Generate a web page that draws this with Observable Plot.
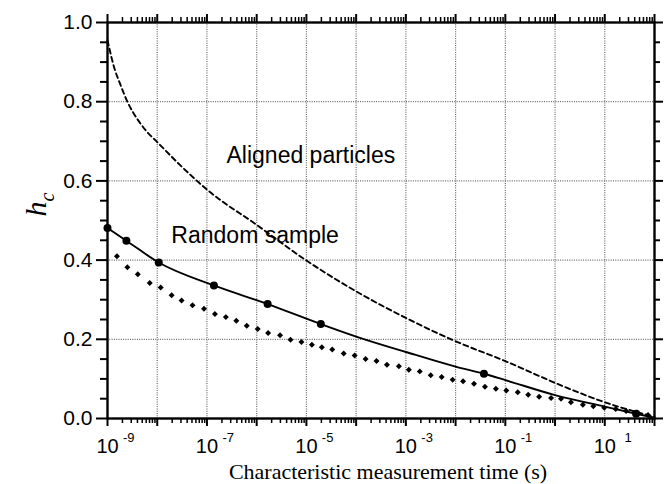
<!DOCTYPE html>
<html>
<head>
<meta charset="utf-8">
<script src="https://cdn.jsdelivr.net/npm/d3@7"></script>
<script src="https://cdn.jsdelivr.net/npm/@observablehq/plot@0.6"></script>
<style>
  body { margin: 0; background: #fff; }
  #chart svg { display: block; }
</style>
</head>
<body>
<div id="chart"></div>
<script>
// Critical field h_c against characteristic measurement time (log10 of seconds).

// Aligned particles (dashed curve)
const alignedLogT = [-9, -8.86, -8.74, -8.6, -8.42, -8.22, -8, -7.5, -7, -6, -5, -4, -3, -2, -1, 0, 1, 2];
const alignedH    = [0.955, 0.884, 0.843, 0.800, 0.760, 0.726, 0.698, 0.635, 0.578, 0.489, 0.399, 0.321, 0.254, 0.195, 0.145, 0.090, 0.041, 0.004];

// Random sample (solid curve)
const randomLogT = [-9, -8.62, -7.97, -6.86, -5.78, -4.71, -4, -3, -2, -1.43, -1, 0, 1, 1.63, 2];
const randomH    = [0.481, 0.449, 0.394, 0.336, 0.289, 0.2385, 0.207, 0.168, 0.131, 0.113, 0.097, 0.059, 0.030, 0.012, 0.002];

// Random sample: marked points on the solid curve
const markedLogT = [-9, -8.62, -7.97, -6.86, -5.78, -4.71, -1.43, 1.63];
const markedH    = [0.481, 0.449, 0.394, 0.336, 0.289, 0.2385, 0.113, 0.012];

// Dotted series (diamonds)
const dottedLogT = [-8.81, -8.60, -8.39, -8.15, -7.93, -7.71, -7.51, -7.29, -7.06, -6.84, -6.62, -6.41, -6.20, -5.98, -5.77, -5.53, -5.32, -5.10, -4.89, -4.69, -4.48, -4.25, -4.03, -3.81, -3.59, -3.38, -3.14, -2.94, -2.72, -2.50, -2.28, -2.06, -1.85, -1.63, -1.41, -1.19, -0.98, -0.75, -0.54, -0.32, -0.08, 0.12, 0.32, 0.56, 0.77, 0.99, 1.22, 1.43, 1.65, 1.87];
const dottedH    = [0.410, 0.382, 0.364, 0.342, 0.331, 0.311, 0.298, 0.286, 0.277, 0.264, 0.256, 0.247, 0.234, 0.226, 0.216, 0.210, 0.199, 0.193, 0.186, 0.180, 0.174, 0.164, 0.159, 0.150, 0.145, 0.136, 0.132, 0.123, 0.119, 0.109, 0.105, 0.098, 0.094, 0.088, 0.080, 0.075, 0.071, 0.066, 0.060, 0.055, 0.052, 0.050, 0.041, 0.035, 0.031, 0.027, 0.024, 0.019, 0.015, 0.009];

// Axes
const decadeExp   = [-9, -8, -7, -6, -5, -4, -3, -2, -1, 0, 1, 2];
const xLabelExp   = [-9, -7, -5, -3, -1, 1];
const xLabelSup   = ["-9", "-7", "-5", "-3", "-1", "1"];
const yTickValues = [0, 0.2, 0.4, 0.6, 0.8, 1.0];
const yMinorTicks = [0.05, 0.1, 0.15, 0.25, 0.3, 0.35, 0.45, 0.5, 0.55, 0.65, 0.7, 0.75, 0.85, 0.9, 0.95];

const rows = (logT, h) => logT.map((e, i) => ({t: 10 ** e, h: h[i]}));
const aligned = rows(alignedLogT, alignedH);
const random = rows(randomLogT, randomH);
const marked = rows(markedLogT, markedH);
const dotted = rows(dottedLogT, dottedH);

const decades = decadeExp.map(e => 10 ** e);
const minorT = decadeExp.slice(0, -1).flatMap(e => d3.range(2, 10).map(k => k * 10 ** e));
const xLabels = xLabelExp.map((e, i) => ({t: 10 ** e, sup: xLabelSup[i]}));

const grid = {stroke: "#6a6a6a", strokeWidth: 1.2, strokeDasharray: "1,1.3"};
const sans = "'Liberation Sans', Arial, sans-serif";
const serif = "'Liberation Serif', 'Times New Roman', serif";
const blank = () => "";

const chart = Plot.plot({
  width: 664,
  height: 484,
  marginLeft: 107,
  marginRight: 10,
  marginTop: 22,
  marginBottom: 66,
  x: {type: "log", domain: [1e-9, 1e2], axis: null},
  y: {domain: [0, 1], axis: null},
  style: {fontFamily: sans, background: "white", color: "black"},
  marks: [
    // dotted grid
    Plot.ruleX(decades.slice(1, -1), grid),
    Plot.ruleY([0.2, 0.4, 0.6, 0.8], grid),

    // bottom axis ticks
    Plot.axisX(minorT, {anchor: "bottom", tickSize: 5, tickFormat: blank, label: null, strokeWidth: 1.5}),
    Plot.axisX(decades, {anchor: "bottom", tickSize: 8, tickFormat: blank, label: null, strokeWidth: 2}),
    // top axis ticks
    Plot.axisX(minorT, {anchor: "top", tickSize: 6, tickFormat: blank, label: null, strokeWidth: 1.5}),
    Plot.axisX(decades, {anchor: "top", tickSize: 9, tickFormat: blank, label: null, strokeWidth: 2}),
    // left axis
    Plot.axisY(yMinorTicks, {anchor: "left", tickSize: 7, tickFormat: blank, label: null, strokeWidth: 2}),
    Plot.axisY(yTickValues, {anchor: "left", tickSize: 11, tickPadding: 4, tickFormat: d3.format(".1f"), label: null, fontSize: 21, strokeWidth: 2}),
    // right axis
    Plot.axisY(yMinorTicks, {anchor: "right", tickSize: 5, tickFormat: blank, label: null, strokeWidth: 2}),
    Plot.axisY(yTickValues, {anchor: "right", tickSize: 8, tickFormat: blank, label: null, strokeWidth: 2}),

    // x tick labels: 10 with superscript exponent
    Plot.text(xLabels, {x: "t", y: () => 0, text: () => "10", dy: 34, lineAnchor: "bottom", fontSize: 20}),
    Plot.text(xLabels, {x: "t", y: () => 0, text: "sup", dx: 27, dy: 23, textAnchor: "end", lineAnchor: "bottom", fontSize: 13}),

    Plot.frame({stroke: "black", strokeWidth: 2.4}),

    // curves
    Plot.line(aligned, {x: "t", y: "h", stroke: "black", strokeWidth: 1.9, strokeDasharray: "5,3.5", curve: "monotone-x"}),
    Plot.line(random, {x: "t", y: "h", stroke: "black", strokeWidth: 1.9, curve: "monotone-x"}),
    Plot.dot(marked, {x: "t", y: "h", r: 4, fill: "black", stroke: null}),
    Plot.dot(dotted, {x: "t", y: "h", symbol: "diamond2", r: 2.7, fill: "black", stroke: null}),

    // annotations
    Plot.text(["Aligned particles"], {x: () => 10 ** -6.607, y: () => 0.645, text: d => d, textAnchor: "start", lineAnchor: "bottom", fontSize: 23}),
    Plot.text(["Random sample"], {x: () => 10 ** -7.716, y: () => 0.443, text: d => d, textAnchor: "start", lineAnchor: "bottom", fontSize: 23}),

    // axis titles
    Plot.text(["Characteristic measurement time (s)"], {frameAnchor: "bottom", text: d => d, dx: 7, dy: 60, lineAnchor: "bottom", fontFamily: serif, fontSize: 22}),
    Plot.text(["h"], {frameAnchor: "left", text: d => d, rotate: -90, dx: -62, dy: -4, lineAnchor: "bottom", fontFamily: serif, fontStyle: "italic", fontSize: 30}),
    Plot.text(["c"], {frameAnchor: "left", text: d => d, rotate: -90, dx: -54, dy: -19, lineAnchor: "bottom", fontFamily: serif, fontStyle: "italic", fontSize: 20})
  ]
});

document.getElementById("chart").append(chart);
</script>
</body>
</html>
